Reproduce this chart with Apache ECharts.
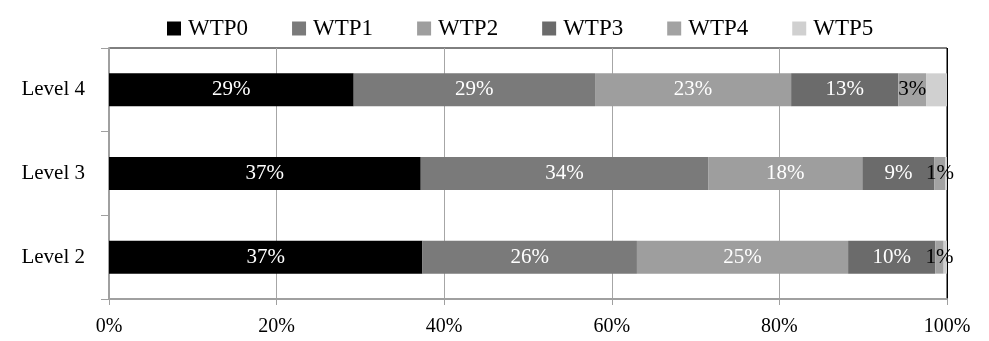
<!DOCTYPE html>
<html>
<head>
<meta charset="utf-8">
<style>
  html, body { margin: 0; padding: 0; background: #fff; }
  #chart { width: 989px; height: 341px; }
</style>
<script src="https://cdn.jsdelivr.net/npm/echarts@6/dist/echarts.min.js"></script>
</head>
<body>
<div id="chart"></div>
<script>
// Willingness-to-pay shares per level (percent), bottom row first
const levels = ['Level 2', 'Level 3', 'Level 4'];
const seriesNames = ['WTP0', 'WTP1', 'WTP2', 'WTP3', 'WTP4', 'WTP5'];
const wtp0 = [37.4, 37.2, 29.2];
const wtp1 = [25.6, 34.3, 28.8];
const wtp2 = [25.2, 18.4, 23.4];
const wtp3 = [10.4, 8.6, 12.8];
const wtp4 = [1.0, 1.3, 3.3];
const wtp5 = [0.4, 0.2, 2.5];
const xTicks = [0, 20, 40, 60, 80, 100];

const values = [wtp0, wtp1, wtp2, wtp3, wtp4, wtp5];
const colors = ['#000000', '#7a7a7a', '#9e9e9e', '#6b6b6b', '#a2a2a2', '#d0d0d0'];
const labelColors = ['#ffffff', '#ffffff', '#ffffff', '#ffffff', '#000000', null];
const FONT = '"Liberation Serif", "Times New Roman", serif';

const series = seriesNames.map((name, i) => ({
  name: name,
  type: 'bar',
  stack: 'total',
  barWidth: 33,
  data: values[i],
  itemStyle: { color: colors[i] },
  label: labelColors[i] ? {
    show: true,
    position: 'inside',
    color: labelColors[i],
    fontFamily: FONT,
    fontSize: 21,
    formatter: p => Math.round(p.value) + '%'
  } : { show: false },
  emphasis: { disabled: true }
}));

const chart = echarts.init(document.getElementById('chart'), null, { renderer: 'canvas' });
chart.setOption({
  animation: false,
  backgroundColor: '#ffffff',
  textStyle: { fontFamily: FONT },
  legend: {
    data: seriesNames,
    left: 162,
    top: 12,
    itemWidth: 14,
    itemHeight: 14,
    itemGap: 44,
    icon: 'rect',
    textStyle: { fontFamily: FONT, fontSize: 23, color: '#000', padding: [0, 0, 0, 2] }
  },
  grid: {
    left: 109,
    right: 42,
    top: 48,
    bottom: 42,
    show: true,
    borderColor: '#000',
    borderWidth: 1,
    backgroundColor: 'transparent'
  },
  xAxis: {
    type: 'value',
    min: xTicks[0],
    max: xTicks[xTicks.length - 1],
    interval: xTicks[1] - xTicks[0],
    axisLine: { show: true, lineStyle: { color: '#a0a0a0', width: 2 } },
    axisTick: { show: true, length: 6, lineStyle: { color: '#a0a0a0' } },
    axisLabel: {
      color: '#000',
      fontFamily: FONT,
      fontSize: 20,
      margin: 18,
      formatter: v => v + '%'
    },
    splitLine: {
      show: true,
      lineStyle: { color: ['#a6a6a6', '#a6a6a6', '#a6a6a6', '#a6a6a6', '#a6a6a6', '#000000'], width: 1 }
    }
  },
  yAxis: {
    type: 'category',
    data: levels,
    axisLine: { show: true, lineStyle: { color: '#a0a0a0', width: 2 } },
    axisTick: { show: true, length: 8, lineStyle: { color: '#a0a0a0' } },
    axisLabel: { color: '#000', fontFamily: FONT, fontSize: 21, margin: 24 },
    splitLine: { show: false }
  },
  series: series
});
</script>
</body>
</html>
